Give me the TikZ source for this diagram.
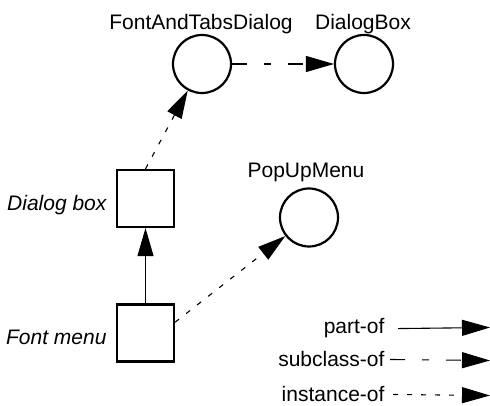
\documentclass[tikz,border=0pt]{standalone}
\usepackage{fontspec}
\setmainfont{Liberation Sans}
\usetikzlibrary{arrows.meta}

\begin{document}
\begin{tikzpicture}[x=1pt, y=1pt, font=\fontsize{21}{25}\selectfont,
  >={Triangle[length=28pt,width=16pt]}]
\tikzstyle{cls}=[draw,circle,line width=2.2pt,minimum size=58pt,inner sep=0pt]
\tikzstyle{obj}=[draw,rectangle,line width=2.2pt,minimum size=57pt,inner sep=0pt]
\tikzstyle{partof}=[->,line width=1.1pt]
\tikzstyle{subclassof}=[->,line width=1.1pt,dash pattern=on 15pt off 17pt on 7pt off 17pt]
\tikzstyle{instanceof}=[->,line width=1.1pt,dash pattern=on 5pt off 9pt]
\useasboundingbox (0,0) rectangle (490,406);
  % classes
  \foreach \place/\name/\text/\lbl in {{(202,342)/fatd/FontAndTabsDialog/(201,376)},
                                       {(364,342)/dbox/DialogBox/(363,376)},
                                       {(309,188.5)/popup/PopUpMenu/(306,228)}}
  {
    \node[cls] (\name) at \place {};
    \node[anchor=base] (\name-lbl) at \lbl {\text};
  }
  % objects
  \foreach \place/\name/\text/\lbl in {{(145.5,207.5)/dlg/Dialog box/(110,195)},
                                       {(145.5,73)/fmenu/Font menu/(110,61)}}
  {
    \node[obj] (\name) at \place {};
    \node[anchor=base east,font=\fontsize{21}{25}\selectfont\itshape] (\name-lbl) at \lbl {\text};
  }
  \draw[partof] (fmenu) -- (dlg);
  \draw[instanceof] (dlg.north) -- (fatd);
  \draw[instanceof] (fmenu.20) -- (popup);
  \draw[subclassof] (fatd) -- (dbox);
  % legend
  \foreach \y/\kind in {72/part-of, 39/subclass-of, 4/instance-of}
  {
    \node[anchor=base east,inner ysep=1pt] (\kind-lbl) at (388,\y) {\kind};
    \coordinate (\kind-end) at (490,\y+6.5);
  }
  \draw[partof] ([xshift=10pt]part-of-lbl.east) -- (part-of-end);
  \draw[subclassof] ([xshift=2pt]subclass-of-lbl.east) -- (subclass-of-end);
  \draw[instanceof] ([xshift=5pt]instance-of-lbl.east) -- (instance-of-end);
\end{tikzpicture}
\end{document}
